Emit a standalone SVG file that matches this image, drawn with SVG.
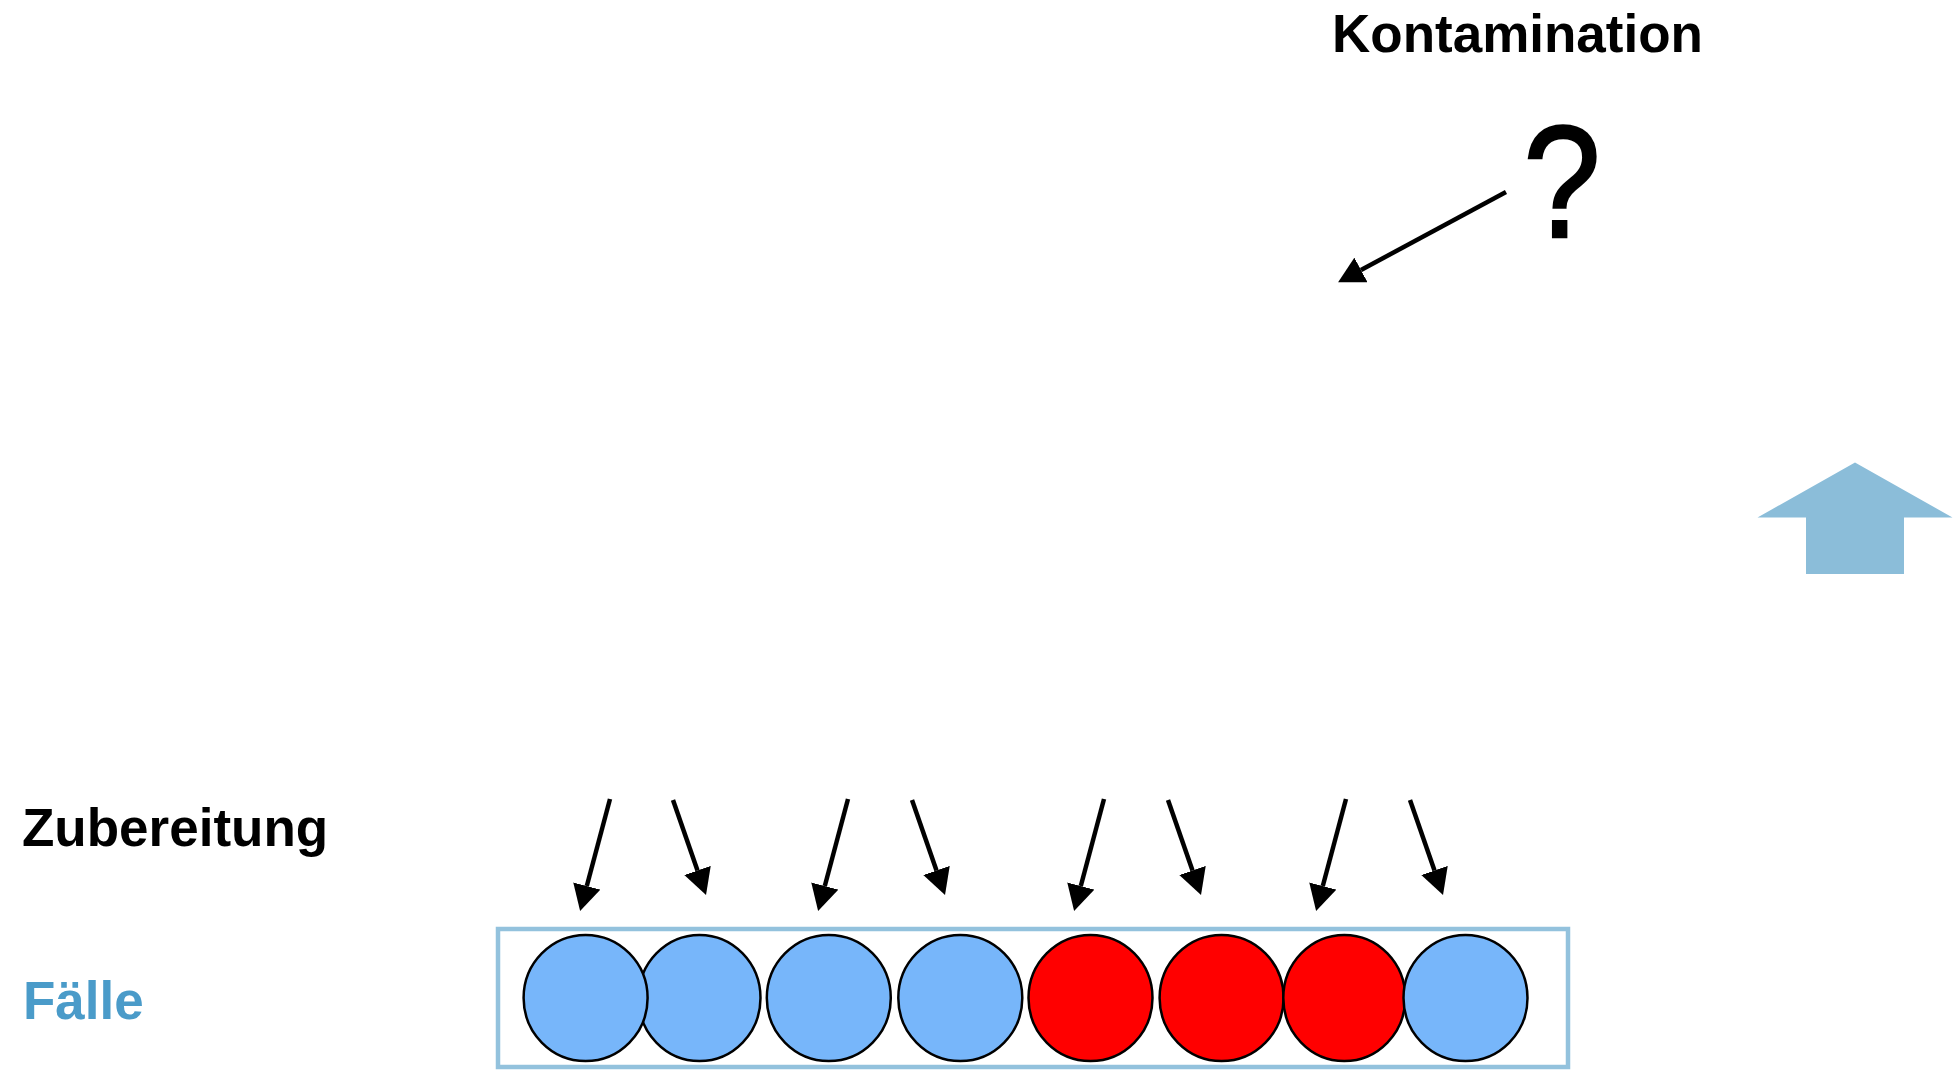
<svg xmlns="http://www.w3.org/2000/svg" width="1960" height="1071" viewBox="0 0 1960 1071">
<style>
.lbl{font-family:"Liberation Sans",Arial,sans-serif;font-weight:bold;font-size:53px;fill:#000}
.blue{fill:#77B6FA;stroke:#000;stroke-width:2.5}
.red{fill:#FF0000;stroke:#000;stroke-width:2.5}
.conn{stroke:#000;stroke-width:4.5;fill:none;marker-end:url(#ah)}
</style>
<defs>
<marker id="ah" markerUnits="userSpaceOnUse" viewBox="0 -14 26 28" markerWidth="26" markerHeight="28" refX="0" refY="0" orient="auto">
<path d="M0,-14 L26,0 L0,14 z" fill="#000"/>
</marker>
</defs>
<rect width="1960" height="1071" fill="#fff"/>
<g id="kontamination">
<text class="lbl" x="1332" y="52">Kontamination</text>
<text transform="translate(1562,237) scale(0.87,1)" x="0" y="0" text-anchor="middle" font-family="Liberation Sans, Arial, sans-serif" font-size="160" fill="#000" stroke="#000" stroke-width="2.5">?</text>
</g>
<g id="zubereitung"><text class="lbl" x="22" y="846">Zubereitung</text></g>
<g id="faelle-label"><text class="lbl" x="23" y="1019" style="fill:#4A9BC9">Fälle</text></g>
<g id="big-arrow"><polygon points="1855,462.5 1952.5,517.5 1904,517.5 1904,574 1806,574 1806,517.5 1757.5,517.5" fill="#8BBDD9"/></g>
<g id="faelle-box">
<rect x="498" y="929" width="1070" height="138" fill="#fff" stroke="#93C2DD" stroke-width="4.5"/>
</g>
<g id="cases">
<ellipse id="c2" class="blue" cx="699.5" cy="998" rx="61" ry="63"/>
<ellipse id="c1" class="blue" cx="585.6" cy="998" rx="62" ry="63"/>
<ellipse id="c3" class="blue" cx="828.8" cy="998" rx="62" ry="63"/>
<ellipse id="c4" class="blue" cx="960.3" cy="998" rx="62" ry="63"/>
<ellipse id="c5" class="red" cx="1090.5" cy="998" rx="62" ry="63"/>
<ellipse id="c6" class="red" cx="1221.6" cy="998" rx="62" ry="63"/>
<ellipse id="c7" class="red" cx="1344.3" cy="998" rx="61" ry="63"/>
<ellipse id="c8" class="blue" cx="1465.5" cy="998" rx="62" ry="63"/>
</g>
<g id="connectors">
<line class="conn" x1="1506" y1="192" x2="1361" y2="270"/>
<line class="conn" x1="610" y1="799" x2="586.8" y2="886"/>
<line class="conn" x1="673" y1="800" x2="697.5" y2="870.5"/>
<line class="conn" x1="848" y1="799" x2="824.8" y2="886"/>
<line class="conn" x1="912" y1="800" x2="936.5" y2="870.5"/>
<line class="conn" x1="1104" y1="799" x2="1080.8" y2="886"/>
<line class="conn" x1="1168" y1="800" x2="1192.5" y2="870.5"/>
<line class="conn" x1="1346" y1="799" x2="1322.8" y2="886"/>
<line class="conn" x1="1410" y1="800" x2="1434.5" y2="870.5"/>
</g>
</svg>
